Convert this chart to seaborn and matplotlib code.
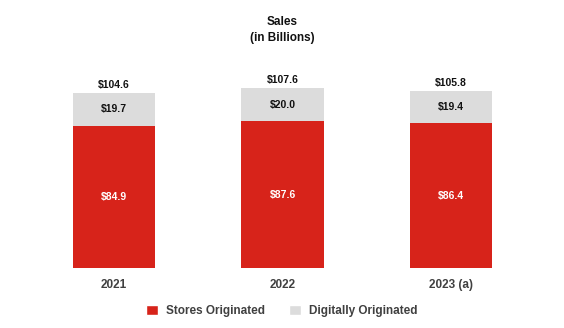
import matplotlib
matplotlib.use("Agg")
import matplotlib.pyplot as plt
import seaborn as sns
import pandas as pd
from matplotlib.patches import Patch

years = ["2021", "2022", "2023 (a)"]
stores = [84.9, 87.6, 86.4]
digital = [19.7, 20.0, 19.4]
totals = [104.6, 107.6, 105.8]

sns.set_theme(style="white")
plt.rcParams['font.family'] = ['Liberation Sans', 'DejaVu Sans']

RED = "#D7231A"
GRAY = "#DCDCDC"

df = pd.DataFrame({"year": years, "stores": stores, "digital": digital, "total": totals})

fig = plt.figure(figsize=(5.64, 3.28), dpi=100)
ax = fig.add_axes([30/564, 60/328, 505/564, 208/328])

sns.barplot(data=df, x="year", y="total", color=GRAY, width=0.49, ax=ax, saturation=1, linewidth=0)
sns.barplot(data=df, x="year", y="stores", color=RED, width=0.49, ax=ax, saturation=1, linewidth=0)

for i in range(len(years)):
    ax.text(i, stores[i] / 2, f"${stores[i]:.1f}", ha="center", va="center",
            color="white", fontsize=7.5, fontweight="bold")
    ax.text(i, stores[i] + digital[i] / 2, f"${digital[i]:.1f}", ha="center", va="center",
            color="#111111", fontsize=7.5, fontweight="bold")
    ax.text(i, totals[i] + 5, f"${totals[i]:.1f}", ha="center", va="center",
            color="#111111", fontsize=7.5, fontweight="bold")

ax.set_xlim(-0.5, 2.5)
ax.set_ylim(0, 124.3)
ax.set_xlabel("")
ax.set_ylabel("")
ax.set_yticks([])
ax.tick_params(axis="x", length=0, pad=8)
for lab in ax.get_xticklabels():
    lab.set_fontweight("bold")
    lab.set_fontsize(8.5)
    lab.set_color("#404040")
for s in ax.spines.values():
    s.set_visible(False)

fig.text(0.5, 1 - 22/328, "Sales", ha="center", va="center", fontsize=8.5, fontweight="bold", color="#111111")
fig.text(0.5, 1 - 38/328, "(in Billions)", ha="center", va="center", fontsize=8.5, fontweight="bold", color="#111111")

handles = [Patch(facecolor=RED, label="Stores Originated"),
           Patch(facecolor=GRAY, label="Digitally Originated")]
leg = fig.legend(handles=handles, loc="center", bbox_to_anchor=(0.5, 1 - 311/328), ncol=2,
                 frameon=False, handlelength=1.0, handleheight=1.0, columnspacing=2.0,
                 handletextpad=0.7, prop={"weight": "bold", "size": 8.5})
for t in leg.get_texts():
    t.set_color("#404040")

fig.savefig("out.png", dpi=100)
